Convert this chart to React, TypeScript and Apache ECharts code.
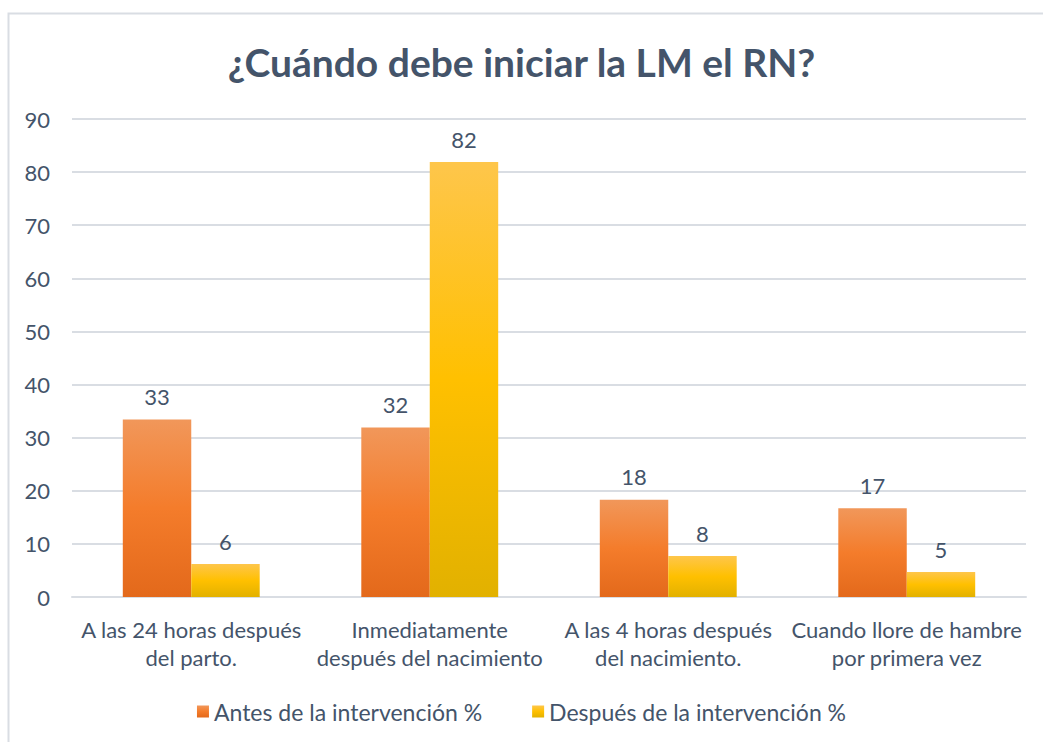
import React, { useEffect, useRef } from "react";
import * as echarts from "echarts";

const categories = [
  "A las 24 horas después\ndel parto.",
  "Inmediatamente\ndespués del nacimiento",
  "A las 4 horas después\ndel nacimiento.",
  "Cuando llore de hambre\npor primera vez",
];
const antes = [33.4, 31.9, 18.3, 16.7];
const despues = [6.2, 81.9, 7.7, 4.7];
const seriesNames = ["Antes de la intervención %", "Después de la intervención %"];
const titleText = "¿Cuándo debe iniciar la LM el RN?";

const FONT = "Lato, 'Open Sans', sans-serif";
const TXT = "#44546A";

const grad = (top: string, mid: string, bottom: string) =>
  new echarts.graphic.LinearGradient(0, 0, 0, 1, [
    { offset: 0, color: top },
    { offset: 0.5, color: mid },
    { offset: 1, color: bottom },
  ]);

export default function App() {
  const ref = useRef<HTMLDivElement>(null);
  useEffect(() => {
    if (!ref.current) return;
    const chart = echarts.init(ref.current, null, { renderer: "svg" });
    const orange = grad("#F1975A", "#F47C2B", "#E3691B");
    const yellow = grad("#FEC64B", "#FFC000", "#E2B100");
    const lbl = {
      show: true,
      position: "top",
      distance: 12,
      fontFamily: FONT,
      fontSize: 22,
      color: TXT,
      formatter: (p: any) => String(Math.round(p.value)),
    };
    chart.setOption({
      animation: false,
      backgroundColor: "#FFFFFF",
      graphic: [
        {
          type: "rect",
          shape: { x: 8.5, y: 13.5, width: 1100, height: 800 },
          style: { fill: "none", stroke: "#D9DDE3", lineWidth: 2 },
          silent: true,
        },
      ],
      title: {
        text: titleText,
        left: "center",
        top: 37,
        textStyle: { fontFamily: FONT, fontSize: 39, fontWeight: "bold", color: TXT },
      },
      grid: { left: 72, right: 17, top: 119, bottom: 145, containLabel: false },
      legend: {
        bottom: 14,
        left: "center",
        itemWidth: 12,
        itemHeight: 12,
        itemGap: 50,
        icon: "rect",
        textStyle: { fontFamily: FONT, fontSize: 23, color: TXT, padding: [0, 0, 0, 0] },
        data: seriesNames,
      },
      xAxis: {
        type: "category",
        data: categories,
        axisLine: { show: true, lineStyle: { color: "#D9DDE3", width: 2 } },
        axisTick: { show: false },
        axisLabel: {
          fontFamily: FONT,
          fontSize: 22,
          color: TXT,
          lineHeight: 28,
          margin: 18,
          interval: 0,
        },
      },
      yAxis: {
        type: "value",
        min: 0,
        max: 90,
        interval: 10,
        axisLine: { show: false },
        axisTick: { show: false },
        splitLine: { lineStyle: { color: "#D9DDE3", width: 2 } },
        axisLabel: { fontFamily: FONT, fontSize: 22, color: TXT, margin: 22 },
      },
      series: [
        {
          name: seriesNames[0],
          type: "bar",
          data: antes,
          barGap: "0%",
          barCategoryGap: "42.6%",
          itemStyle: { color: orange },
          label: lbl,
        },
        {
          name: seriesNames[1],
          type: "bar",
          data: despues,
          itemStyle: { color: yellow },
          label: lbl,
        },
      ],
    });
    return () => chart.dispose();
  }, []);
  return (
    <div
      ref={ref}
      style={{ position: "absolute", left: 0, top: 0, width: 1043, height: 742 }}
    />
  );
}
